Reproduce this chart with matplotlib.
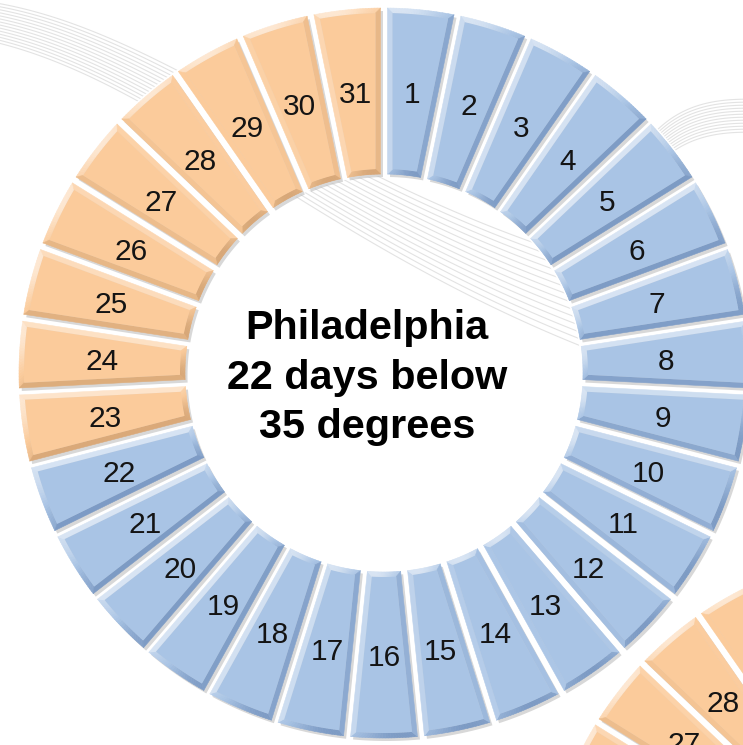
import numpy as np
import matplotlib.pyplot as plt
from matplotlib.collections import PolyCollection
from matplotlib.patches import Wedge

# one tile per day of the month
days = list(range(1, 32))
city = "Philadelphia"
threshold_f = 35
cold_days = 22          # days 1..22 below the threshold
next_city_cold_days = 20  # the neighbouring ring, only its corner shows

blue = '#A9C4E5'
orange = '#FBCB9B'
blue_dark = '#5F7FAE'
orange_dark = '#C08F5E'

W, H = 743, 745
fig = plt.figure(figsize=(W / 100, H / 100), dpi=100)
ax = fig.add_axes([0, 0, 1, 1])
ax.set_xlim(0, W)
ax.set_ylim(0, H)
ax.axis('off')


def mix(c1, c2, t):
    a = np.array(plt.matplotlib.colors.to_rgb(c1))
    b = np.array(plt.matplotlib.colors.to_rgb(c2))
    return tuple(a * (1 - t) + b * t)


def outline(cx, cy, a_hi, a_lo, r_in, r_out, d, n=24):
    # wedge whose straight sides sit d pixels inside the radial boundaries
    so = np.arcsin(d / r_out)
    si = np.arcsin(d / r_in)
    t_out = np.linspace(a_hi - so, a_lo + so, n)
    t_in = np.linspace(a_lo + si, a_hi - si, n)
    xs = np.concatenate([cx + r_out * np.cos(t_out), cx + r_in * np.cos(t_in)])
    ys = np.concatenate([cy + r_out * np.sin(t_out), cy + r_in * np.sin(t_in)])
    return np.column_stack([xs, ys])


def bezier(p0, p1, p2, p3, n=120):
    t = np.linspace(0, 1, n)[:, None]
    p0, p1, p2, p3 = map(np.array, (p0, p1, p2, p3))
    return (1 - t) ** 3 * p0 + 3 * (1 - t) ** 2 * t * p1 + 3 * (1 - t) * t ** 2 * p2 + t ** 3 * p3


def swoosh():
    # faint ribbon of lines behind the rings (image coords, y down)
    for k in range(14):
        pts = bezier((-10, 2 + 3 * k), (170, 30 + 4 * k), (330, 190 + 5 * k), (620, 270 + 7 * k))
        ax.plot(pts[:, 0], H - pts[:, 1], color='#DCDCDC', lw=0.8, alpha=0.8, zorder=0)
    for k in range(12):
        pts = bezier((600, 240 + 4 * k), (640, 110 + 3 * k), (690, 95 + 3 * k), (770, 100 + 3 * k))
        ax.plot(pts[:, 0], H - pts[:, 1], color='#DCDCDC', lw=0.8, alpha=0.8, zorder=0)


def draw_ring(cx, cy, n_cold, r_in=199, r_out=365, gap=7, bevel=5):
    step = 2 * np.pi / len(days)
    light = np.array([-0.55, 0.83])
    # white band so the background ribbon does not show through the gaps
    ax.add_patch(Wedge((cx, cy), r_out + 2, 0, 360, width=r_out - r_in + 4,
                       facecolor='white', edgecolor='none', zorder=0.5))
    shadows, quads, quad_cols, faces, face_cols = [], [], [], [], []
    for i, day in enumerate(days):
        a_hi = np.pi / 2 - i * step
        a_lo = a_hi - step
        base, dark = (blue, blue_dark) if day <= n_cold else (orange, orange_dark)
        outer = outline(cx, cy, a_hi, a_lo, r_in, r_out, gap / 2)
        inner = outline(cx, cy, a_hi, a_lo, r_in + bevel, r_out - bevel, gap / 2 + bevel)
        shadows.append(outer + np.array([2.5, -3.0]))
        m = len(outer)
        for k in range(m):
            j = (k + 1) % m
            q = [outer[k], outer[j], inner[j], inner[k]]
            nrm = (outer[k] + outer[j]) / 2 - (inner[k] + inner[j]) / 2
            nrm = nrm / (np.linalg.norm(nrm) + 1e-9)
            s = float(nrm @ light)
            col = mix(base, 'white', 0.55 * s) if s > 0 else mix(base, dark, 0.6 * -s)
            quads.append(q)
            quad_cols.append(col)
        faces.append(inner)
        face_cols.append(base)
        am = (a_hi + a_lo) / 2
        rm = (r_in + r_out) / 2
        lx, ly = cx + rm * np.cos(am), cy + rm * np.sin(am) - 3
        if -12 < lx < W + 12 and -12 < ly < H + 12:
            ax.text(lx, ly, str(day), ha='center', va='center', fontsize=21.5,
                    family=['Liberation Sans', 'DejaVu Sans'], color='#141414', zorder=5)
    ax.add_collection(PolyCollection(shadows, facecolors='#B8B8B8', edgecolors='none',
                                     alpha=0.55, zorder=1))
    ax.add_collection(PolyCollection(quads, facecolors=quad_cols, edgecolors=quad_cols,
                                     linewidths=0.4, zorder=2))
    ax.add_collection(PolyCollection(faces, facecolors=face_cols, edgecolors='none', zorder=3))


swoosh()
draw_ring(384, H - 373, cold_days)
draw_ring(907, H - 915, next_city_cold_days)

center_lines = [city, f"{cold_days} days below", f"{threshold_f} degrees"]
for line, yi in zip(center_lines, [328, 378, 427]):
    ax.text(367, H - yi, line, ha='center', va='center', fontsize=29.8, fontweight='bold',
            family=['Liberation Sans', 'DejaVu Sans'], color='black', zorder=5)

fig.savefig('out.png', dpi=100, facecolor='white')
